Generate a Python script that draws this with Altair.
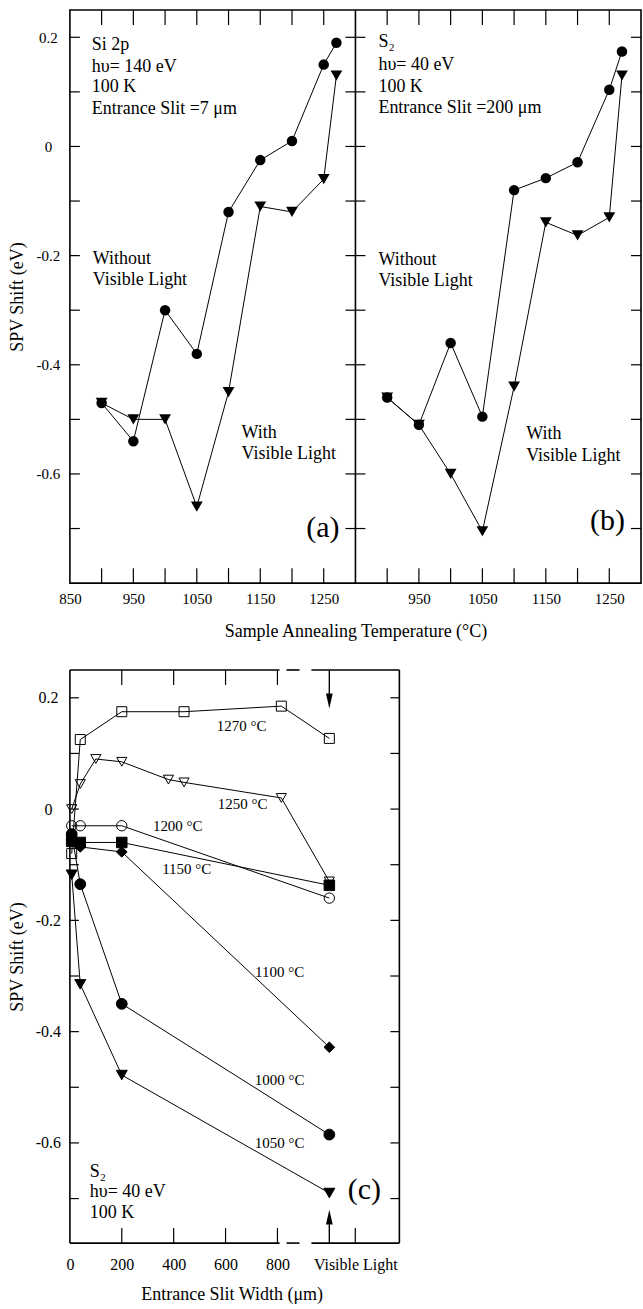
import altair as alt
import pandas as pd

FONT = "Liberation Serif"

# ---------------- data: panels (a) and (b) ----------------
temps = [900, 950, 1000, 1050, 1100, 1150, 1200, 1250, 1270]
si2p_without = [-0.47, -0.54, -0.30, -0.38, -0.12, -0.025, 0.01, 0.15, 0.19]
si2p_with = [-0.47, -0.50, -0.50, -0.66, -0.45, -0.11, -0.12, -0.06, 0.13]
s2_without = [-0.46, -0.51, -0.36, -0.495, -0.08, -0.058, -0.029, 0.104, 0.174]
s2_with = [-0.46, -0.51, -0.60, -0.705, -0.44, -0.139, -0.163, -0.13, 0.13]

# ---------------- data: panel (c) ----------------
VISIBLE = 1000  # position standing for "Visible Light"
slit_1270 = [7, 40, 200, 440, 815, VISIBLE]
shift_1270 = [-0.08, 0.125, 0.175, 0.175, 0.185, 0.127]
slit_1250 = [7, 40, 100, 200, 380, 440, 815, VISIBLE]
shift_1250 = [0.0, 0.045, 0.09, 0.085, 0.053, 0.048, 0.02, -0.13]
slit_1200 = [7, 40, 200, VISIBLE]
shift_1200 = [-0.03, -0.03, -0.03, -0.16]
slit_1150 = [7, 40, 200, VISIBLE]
shift_1150 = [-0.058, -0.06, -0.06, -0.137]
slit_1100 = [7, 40, 200, VISIBLE]
shift_1100 = [-0.055, -0.068, -0.077, -0.428]
slit_1000 = [7, 40, 200, VISIBLE]
shift_1000 = [-0.045, -0.135, -0.35, -0.585]
slit_1050 = [7, 40, 200, VISIBLE]
shift_1050 = [-0.118, -0.315, -0.478, -0.69]

series_c = ["1270", "1250", "1200", "1150", "1100", "1000", "1050"]
shapes_c = ["square", "triangle-down", "circle", "square", "diamond", "circle", "triangle-down"]
fills_c = ["transparent", "transparent", "transparent", "black", "black", "black", "black"]
sizes_c = [100, 121, 90, 121, 100, 121, 144]

temp_ticks = [900, 950, 1000, 1050, 1100, 1150, 1200, 1250]
shift_ticks = [-0.7, -0.6, -0.5, -0.4, -0.3, -0.2, -0.1, 0.0, 0.1, 0.2]
slit_ticks_top = [200, 400, 600, 800]
slit_ticks_bottom = [200, 400, 600, 800, 1100]
slit_label_values = [0, 200, 400, 600, 800, 1100]

# panels (a) and (b) share one x scale: panel (b) is shifted by one temperature span
T_MIN, T_MAX = 850, 1300
SPAN = T_MAX - T_MIN
W_TOP, H_TOP = 572, 574
W_HALF = W_TOP / 2
W_C, H_C = 330, 574

Y_LABEL_EXPR = "datum.value == 0 ? '0' : (datum.value < 0 ? '-' : '') + format(abs(datum.value), '.1f')"
TICK = dict(color="black", strokeWidth=1.2)


def note(text, x, y, size=18, align="left"):
    return alt.Chart(alt.Data(values=[{"t": text}])).mark_text(
        font=FONT, fontSize=size, align=align, baseline="middle", color="black"
    ).encode(x=alt.value(x), y=alt.value(y), text="t:N")


def y_axis(size):
    return alt.Axis(values=[-0.6, -0.4, -0.2, 0, 0.2], ticks=False, domain=False, grid=False,
                    labelFont=FONT, labelFontSize=size, labelPadding=22, labelAlign="center",
                    labelBaseline="middle", labelColor="black", labelExpr=Y_LABEL_EXPR,
                    title="SPV Shift  (eV)", titleFont=FONT, titleFontSize=18,
                    titleFontWeight="normal", titleColor="black",
                    titleX=-52, titleY=H_TOP / 2, titleBaseline="middle", titleAlign="center")


# ---------------- top: panels (a) and (b) ----------------
df_top = pd.DataFrame({
    "T": temps * 4,
    "shift": si2p_without + si2p_with + s2_without + s2_with,
    "series": (["without"] * len(temps) + ["with"] * len(temps)) * 2,
    "panel": ["a"] * (2 * len(temps)) + ["b"] * (2 * len(temps)),
})
xs = alt.Scale(domain=[T_MIN, T_MAX + SPAN], nice=False, zero=False)
ys = alt.Scale(domain=[-0.8, 0.25], nice=False, zero=False)
shift_expr = f"datum.panel == 'b' ? datum.T + {SPAN} : datum.T"

x_label_values = [850, 950, 1050, 1150, 1250] + [t + SPAN for t in [950, 1050, 1150, 1250]]
xaxis_top = alt.Axis(values=x_label_values, ticks=False, domain=False, grid=False,
                     labelFont=FONT, labelFontSize=15, labelPadding=8, labelColor="black",
                     labelFlush=False, labelOverlap=False,
                     labelExpr=f"'' + (datum.value > {T_MAX} ? datum.value - {SPAN} : datum.value)",
                     title="Sample Annealing Temperature (°C)", titleFont=FONT, titleFontSize=18,
                     titleFontWeight="normal", titleColor="black",
                     titleX=W_HALF, titleY=48, titleBaseline="middle", titleAlign="center")

base_top = alt.Chart(df_top).transform_calculate(X=shift_expr)
lines_top = base_top.mark_line(color="black", strokeWidth=1).encode(
    x=alt.X("X:Q", scale=xs, axis=xaxis_top),
    y=alt.Y("shift:Q", scale=ys, axis=y_axis(15)),
    detail="panel_series:N",
).transform_calculate(panel_series="datum.panel + datum.series")
pts_top = base_top.mark_point(filled=True, color="black", opacity=1).encode(
    x=alt.X("X:Q", scale=xs),
    y=alt.Y("shift:Q", scale=ys),
    shape=alt.Shape("series:N", scale=alt.Scale(domain=["without", "with"],
                                                range=["circle", "triangle-down"]), legend=None),
    size=alt.Size("series:N", scale=alt.Scale(domain=["without", "with"], range=[110, 140]), legend=None),
)

ticks_df = pd.DataFrame({"T": temp_ticks * 2, "panel": ["a"] * len(temp_ticks) + ["b"] * len(temp_ticks)})
tick_base = alt.Chart(ticks_df).transform_calculate(X=shift_expr)
xt_bottom = tick_base.mark_rule(**TICK).encode(
    x=alt.X("X:Q", scale=xs), y=alt.value(H_TOP), y2=alt.value(H_TOP - 15))
xt_top = tick_base.mark_rule(**TICK).encode(
    x=alt.X("X:Q", scale=xs), y=alt.value(0), y2=alt.value(15))

ytick_base = alt.Chart(pd.DataFrame({"v": shift_ticks}))
yt_layers = [
    ytick_base.mark_rule(**TICK).encode(y=alt.Y("v:Q", scale=ys), x=alt.value(x0), x2=alt.value(x1))
    for x0, x1 in [(0, 10), (W_HALF - 10, W_HALF + 10), (W_TOP - 10, W_TOP)]
]
divider = alt.Chart(alt.Data(values=[{"d": T_MAX}])).mark_rule(color="black", strokeWidth=1.6).encode(
    x=alt.X("d:Q", scale=xs), y=alt.value(0), y2=alt.value(H_TOP))

notes_a = [
    ("Si 2p", 22, 35), ("hυ= 140 eV", 22, 57), ("100 K", 22, 77), ("Entrance Slit =7 μm", 22, 99),
    ("Without", 23, 249), ("Visible Light", 23, 270),
    ("With", 172, 424), ("Visible Light", 172, 445),
    ("(a)", 270, 519, 30, "right"),
]
notes_b = [
    ("S₂", 23, 32), ("hυ= 40 eV", 23, 55), ("100 K", 23, 77), ("Entrance Slit =200 μm", 23, 98),
    ("Without", 23, 250), ("Visible Light", 23, 271),
    ("With", 171, 425), ("Visible Light", 171, 447),
    ("(b)", 270, 512, 30, "right"),
]
note_layers = [note(*n) for n in notes_a]
for n in notes_b:
    n = list(n)
    n[1] = n[1] + W_HALF
    note_layers.append(note(*n))

top = alt.layer(lines_top, pts_top, xt_bottom, xt_top, *yt_layers, divider, *note_layers).properties(
    width=W_TOP, height=H_TOP)

# ---------------- panel (c) ----------------
slits = [slit_1270, slit_1250, slit_1200, slit_1150, slit_1100, slit_1000, slit_1050]
shifts = [shift_1270, shift_1250, shift_1200, shift_1150, shift_1100, shift_1000, shift_1050]
rows = []
for name, xs_, ys_ in zip(series_c, slits, shifts):
    for xv, yv in zip(xs_, ys_):
        rows.append({"slit": xv, "shift": yv, "temp": name})
df_c = pd.DataFrame(rows)

xsc = alt.Scale(domain=[0, 1270], nice=False, zero=False)
ysc = alt.Scale(domain=[-0.78, 0.25], nice=False, zero=False)

xaxis_c = alt.Axis(values=slit_label_values, ticks=False, domain=False, grid=False,
                   labelFont=FONT, labelFontSize=16, labelPadding=13, labelColor="black",
                   labelFlush=False, labelOverlap=False,
                   labelExpr="datum.value == 1100 ? 'Visible Light' : '' + datum.value",
                   title="Entrance Slit Width (μm)", titleFont=FONT, titleFontSize=18,
                   titleFontWeight="normal", titleColor="black",
                   titleX=162, titleY=52, titleBaseline="middle", titleAlign="center")

base_c = alt.Chart(df_c)
lines_c = base_c.mark_line(color="black", strokeWidth=1).encode(
    x=alt.X("slit:Q", scale=xsc, axis=xaxis_c),
    y=alt.Y("shift:Q", scale=ysc, axis=y_axis(16)),
    detail="temp:N")
pts_c = base_c.mark_point(filled=True, stroke="black", strokeWidth=1, opacity=1).encode(
    x=alt.X("slit:Q", scale=xsc),
    y=alt.Y("shift:Q", scale=ysc),
    shape=alt.Shape("temp:N", scale=alt.Scale(domain=series_c, range=shapes_c), legend=None),
    fill=alt.Fill("temp:N", scale=alt.Scale(domain=series_c, range=fills_c), legend=None),
    size=alt.Size("temp:N", scale=alt.Scale(domain=series_c, range=sizes_c), legend=None),
)

# frame of panel (c) with the broken (dashed) stretch before "Visible Light"
frame_segments = pd.DataFrame({"a": [0, 835, 931], "b": [808, 885, 1270]})
frame_top = alt.Chart(frame_segments).mark_rule(color="black", strokeWidth=1.6).encode(
    x=alt.X("a:Q", scale=xsc), x2="b:Q", y=alt.value(0))
frame_bottom = alt.Chart(frame_segments).mark_rule(color="black", strokeWidth=1.6).encode(
    x=alt.X("a:Q", scale=xsc), x2="b:Q", y=alt.value(H_C))
one = alt.Data(values=[{"s": VISIBLE}])
frame_left = alt.Chart(one).mark_rule(color="black", strokeWidth=1.6).encode(
    x=alt.value(0), y=alt.value(0), y2=alt.value(H_C))
frame_right = alt.Chart(one).mark_rule(color="black", strokeWidth=1.6).encode(
    x=alt.value(W_C), y=alt.value(0), y2=alt.value(H_C))

arrow_top_line = alt.Chart(one).mark_rule(color="black", strokeWidth=1.4).encode(
    x=alt.X("s:Q", scale=xsc), y=alt.value(0), y2=alt.value(26))
arrow_top_head = alt.Chart(one).mark_point(
    shape="M-0.45,-1L0.45,-1L0,1Z", filled=True, color="black", opacity=1, size=225
).encode(x=alt.X("s:Q", scale=xsc), y=alt.value(31))
arrow_bot_line = alt.Chart(one).mark_rule(color="black", strokeWidth=1.4).encode(
    x=alt.X("s:Q", scale=xsc), y=alt.value(H_C), y2=alt.value(552))
arrow_bot_head = alt.Chart(one).mark_point(
    shape="M-0.45,1L0.45,1L0,-1Z", filled=True, color="black", opacity=1, size=225
).encode(x=alt.X("s:Q", scale=xsc), y=alt.value(548))

xt_c_top = alt.Chart(pd.DataFrame({"v": slit_ticks_top})).mark_rule(**TICK).encode(
    x=alt.X("v:Q", scale=xsc), y=alt.value(0), y2=alt.value(15))
xt_c_bottom = alt.Chart(pd.DataFrame({"v": slit_ticks_bottom})).mark_rule(**TICK).encode(
    x=alt.X("v:Q", scale=xsc), y=alt.value(H_C), y2=alt.value(H_C - 15))
ytick_c = alt.Chart(pd.DataFrame({"v": shift_ticks}))
yt_c = [
    ytick_c.mark_rule(**TICK).encode(y=alt.Y("v:Q", scale=ysc), x=alt.value(x0), x2=alt.value(x1))
    for x0, x1 in [(0, 9), (W_C - 9, W_C)]
]

notes_c = [
    ("1270 °C", 172, 56, 15, "center"), ("1250 °C", 173, 134, 15, "center"),
    ("1200 °C", 108, 156, 15, "center"), ("1150 °C", 117, 199, 15, "center"),
    ("1100 °C", 210, 303, 15, "center"), ("1000 °C", 210, 411, 15, "center"),
    ("1050 °C", 210, 474, 15, "center"),
    ("(c)", 295, 521, 30, "center"),
    ("S₂", 20, 503), ("hυ= 40 eV", 20, 523), ("100 K", 20, 544),
]

panel_c = alt.layer(
    lines_c, pts_c, frame_top, frame_bottom, frame_left, frame_right,
    arrow_top_line, arrow_top_head, arrow_bot_line, arrow_bot_head,
    xt_c_top, xt_c_bottom, *yt_c, *[note(*n) for n in notes_c],
).properties(width=W_C, height=H_C, view=alt.ViewBackground(stroke="transparent"))

chart = alt.vconcat(top, panel_c, spacing=87, bounds="flush").resolve_scale(
    shape="independent", size="independent", fill="independent",
).properties(
    padding={"left": 8, "top": 7, "right": 0, "bottom": 0},
).configure(
    font=FONT, background="white",
    view=alt.ViewConfig(stroke="black", strokeWidth=1.6),
    axis=alt.AxisConfig(labelFont=FONT, titleFont=FONT, labelColor="black", titleColor="black"),
)

chart.save("out.html", embed_options={"renderer": "svg", "actions": False})
